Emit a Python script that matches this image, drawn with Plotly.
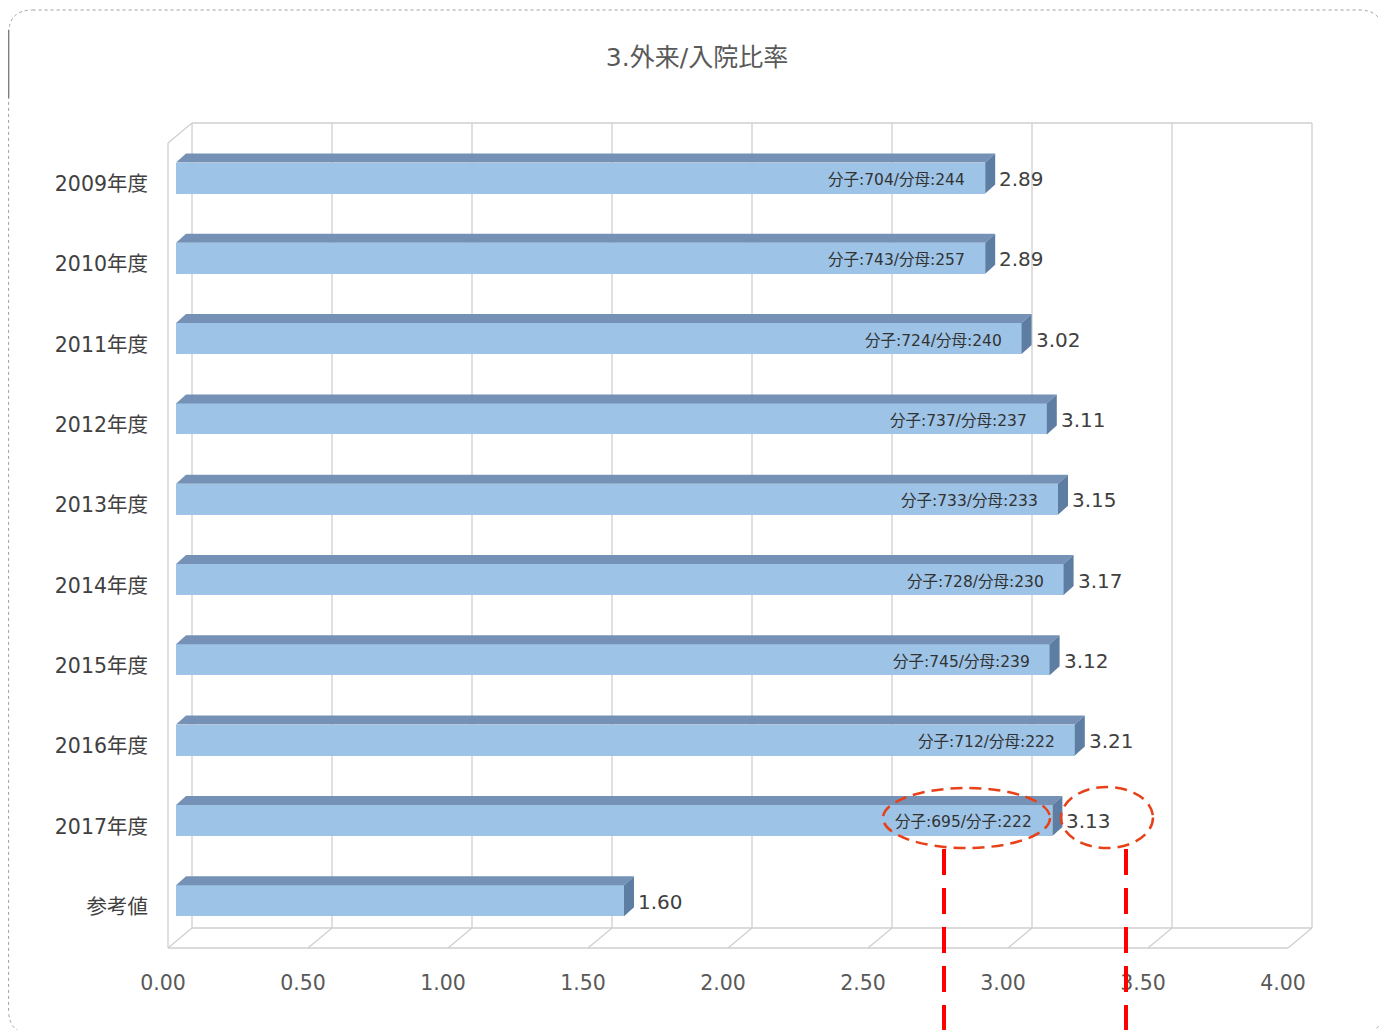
import plotly.graph_objects as go

# ---------------- data ----------------
categories = ["2009年度", "2010年度", "2011年度", "2012年度", "2013年度",
              "2014年度", "2015年度", "2016年度", "2017年度", "参考値"]
values = [2.89, 2.89, 3.02, 3.11, 3.15, 3.17, 3.12, 3.21, 3.13, 1.60]
inner_labels = ["分子:704/分母:244", "分子:743/分母:257", "分子:724/分母:240",
                "分子:737/分母:237", "分子:733/分母:233", "分子:728/分母:230",
                "分子:745/分母:239", "分子:712/分母:222", "分子:695/分子:222", ""]
tick_vals = [0, 0.5, 1.0, 1.5, 2.0, 2.5, 3.0, 3.5, 4.0]
tick_text = ["%.2f" % t for t in tick_vals]
title_text = "3.外来/入院比率"

# ---------------- geometry / style (screen pixels) ----------------
W, H = 1387, 1030
OFF = 8                                       # page body margin
PL, PR, PT, PB = 167, 1315, 123, 948          # 3D box extents on screen
XPX = 280.0                                   # px per x unit
BAR0 = 176                                    # screen pixel of x=0 on bar plane
YPX = 80.3                                    # px per category
LAB0 = 184                                    # screen pixel of first category centre

FONT = "DejaVu Sans, Noto Sans CJK JP"
TXT = "#404040"
FRONT = "#9DC3E6"
TOP = "#7592B6"
SIDE = "#5E7DA2"
GRID = "#CFCFCF"

def px(x):
    return (x - PL) / (PR - PL)

def py(y):
    return (PB - y) / (PB - PT)

xr = [(PL - BAR0) / XPX, (PR - BAR0) / XPX]
yr = [(PB - LAB0) / YPX, (PT - LAB0) / YPX]

bar_w = 31 / YPX
bar_off = -bar_w / 2 - 6 / YPX
dx = 10 / XPX
dy = 9 / YPX

n = len(categories)
ypos = list(range(n))

fig = go.Figure()

# front faces
fig.add_trace(go.Bar(
    x=values, y=ypos, orientation="h", base=0,
    width=[bar_w] * n, offset=[bar_off] * n,
    marker=dict(color=FRONT, line=dict(width=0)),
    hoverinfo="skip", showlegend=False,
))

# top and side faces
tx, ty, sx, sy = [], [], [], []
for i, v in enumerate(values):
    yt = i + bar_off
    yb = yt + bar_w
    tx += [0, v, v + dx, dx, 0, None]
    ty += [yt, yt, yt - dy, yt - dy, yt, None]
    sx += [v, v, v + dx, v + dx, v, None]
    sy += [yt, yb, yb - dy, yt - dy, yt, None]
fig.add_trace(go.Scatter(x=tx, y=ty, mode="lines", fill="toself",
                         fillcolor=TOP, line=dict(width=0, color=TOP),
                         hoverinfo="skip", showlegend=False))
fig.add_trace(go.Scatter(x=sx, y=sy, mode="lines", fill="toself",
                         fillcolor=SIDE, line=dict(width=0, color=SIDE),
                         hoverinfo="skip", showlegend=False))

shapes = []
# 3D box: back wall gridlines, floor diagonals
BACK_DX, FRONT_DX = 16, -8
BACK_FLOOR = 928
for t in tick_vals:
    bx = BAR0 + BACK_DX + t * XPX
    fx = BAR0 + FRONT_DX + t * XPX
    shapes.append(dict(type="line", xref="paper", yref="paper", layer="below",
                       x0=px(bx), x1=px(bx), y0=py(BACK_FLOOR), y1=py(PT),
                       line=dict(color=GRID, width=1.3)))
    shapes.append(dict(type="line", xref="paper", yref="paper", layer="below",
                       x0=px(fx), x1=px(bx), y0=py(PB), y1=py(BACK_FLOOR),
                       line=dict(color=GRID, width=1.3)))
x_back0 = BAR0 + BACK_DX
x_back4 = BAR0 + BACK_DX + tick_vals[-1] * XPX
x_front0 = BAR0 + FRONT_DX
x_front4 = BAR0 + FRONT_DX + tick_vals[-1] * XPX
for (x0, y0, x1, y1) in [
    (x_back0, PT, x_back4, PT),                 # top of back wall
    (x_back0, BACK_FLOOR, x_back4, BACK_FLOOR),  # back floor edge
    (x_front0, PB, x_front4, PB),               # front floor edge
    (x_front0, PT + 20, x_front0, PB),          # left wall front edge
    (x_front0, PT + 20, x_back0, PT),           # left wall top diagonal
]:
    shapes.append(dict(type="line", xref="paper", yref="paper", layer="below",
                       x0=px(x0), x1=px(x1), y0=py(y0), y1=py(y1),
                       line=dict(color=GRID, width=1.3)))

# outer rounded border
L, T, R, B, r = 8.6, 10, 1383, 1034, 24
path = (f"M {px(L + r)},{py(T)} L {px(R - r)},{py(T)} Q {px(R)},{py(T)} {px(R)},{py(T + r)} "
        f"L {px(R)},{py(B - r)} Q {px(R)},{py(B)} {px(R - r)},{py(B)} "
        f"L {px(L + r)},{py(B)} Q {px(L)},{py(B)} {px(L)},{py(B - r)} "
        f"L {px(L)},{py(T + r)} Q {px(L)},{py(T)} {px(L + r)},{py(T)} Z")
shapes.append(dict(type="path", path=path, xref="paper", yref="paper", layer="below",
                   line=dict(color="#A0A0A0", width=1, dash="dot")))
shapes.append(dict(type="line", xref="paper", yref="paper",
                   x0=px(L), x1=px(L), y0=py(30), y1=py(98),
                   line=dict(color="#7F7F7F", width=1.5)))

# red highlight marks
RED_E = "#E8411A"
shapes.append(dict(type="circle", xref="paper", yref="paper",
                   x0=px(883), x1=px(1050), y0=py(848), y1=py(788),
                   line=dict(color=RED_E, width=2.5, dash="12px,7px")))
shapes.append(dict(type="circle", xref="paper", yref="paper",
                   x0=px(1061), x1=px(1153), y0=py(848), y1=py(787),
                   line=dict(color=RED_E, width=2.5, dash="12px,7px")))
for xv in (944, 1126):
    shapes.append(dict(type="line", xref="paper", yref="paper",
                       x0=px(xv), x1=px(xv), y0=py(849), y1=py(1032),
                       line=dict(color="#FF0000", width=4, dash="26px,13px")))

annotations = []
for i, v in enumerate(values):
    annotations.append(dict(x=v, y=i, xref="x", yref="y", text="%.2f" % v,
                            xanchor="left", yanchor="middle", showarrow=False,
                            xshift=12, yshift=5,
                            font=dict(family=FONT, size=20, color=TXT)))
    if inner_labels[i]:
        annotations.append(dict(x=v, y=i, xref="x", yref="y", text=inner_labels[i],
                                xanchor="right", yanchor="middle", showarrow=False,
                                xshift=-18, yshift=4,
                                font=dict(family=FONT, size=15.5, color="#333333")))

fig.update_layout(
    width=W - OFF, height=H - OFF,
    margin=dict(l=PL - OFF, r=W - PR, t=PT - OFF, b=H - PB, pad=0),
    paper_bgcolor="white", plot_bgcolor="rgba(0,0,0,0)",
    title=dict(text=title_text, x=(697 - OFF) / (W - OFF), xanchor="center",
               y=1 - (57 - OFF) / (H - OFF), yanchor="middle",
               font=dict(family=FONT, size=25, color="#595959")),
    xaxis=dict(range=xr, tickmode="array", tickvals=tick_vals, ticktext=tick_text,
               showgrid=False, zeroline=False, showline=False, ticks="",
               ticklabelshift=-13, ticklabelstandoff=20,
               tickfont=dict(family=FONT, size=20.5, color="#595959"), fixedrange=True),
    yaxis=dict(range=yr, tickmode="array", tickvals=ypos, ticktext=categories,
               showgrid=False, zeroline=False, showline=False, ticks="",
               ticklabelstandoff=18,
               tickfont=dict(family=FONT, size=20.5, color="#404040"), fixedrange=True),
    shapes=shapes,
    annotations=annotations,
    showlegend=False,
    bargap=0,
)

fig.write_html("out.html")
